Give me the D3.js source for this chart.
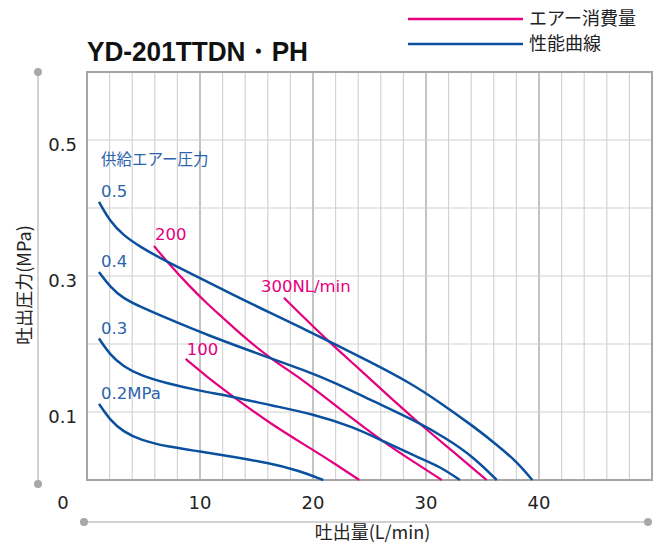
<!DOCTYPE html>
<html><head><meta charset="utf-8">
<script src="https://cdn.jsdelivr.net/npm/d3@7"></script>
<style>body{margin:0;background:#fff}svg{display:block}</style>
</head><body>
<script>
// ---------- data ----------
const chartTitle = "YD-201TTDN・PH";
const xTickValues = [0, 10, 20, 30, 40];
const yTickValues = [0.1, 0.3, 0.5];
const xTitle = "吐出量(L/min)";
const yTitle = "吐出圧力(MPa)";
const legendLabels = ["エアー消費量", "性能曲線"];
const supplyTitle = "供給エアー圧力";

// performance curves (supply pressure) : [flow L/min, discharge pressure MPa]
const perfLabels = ["0.5", "0.4", "0.3", "0.2MPa"];
const perf05 = [[1.06,0.409],[2.04,0.380],[3.21,0.360],[4.69,0.343],[7.05,0.321],[10.0,0.297],[12.95,0.272],[16.19,0.246],[19.14,0.223],[21.5,0.203],[25.04,0.174],[28.58,0.143],[31.24,0.114],[34.19,0.079],[36.26,0.052],[38.03,0.027],[39.41,0]];
const perf04 = [[1.06,0.306],[2.04,0.284],[3.21,0.267],[4.69,0.255],[7.05,0.238],[10.5,0.214],[15.9,0.181],[19.14,0.162],[22.1,0.142],[25.04,0.118],[29.18,0.086],[31.83,0.061],[34.19,0.034],[36.26,0]];
const perf03 = [[1.06,0.208],[2.04,0.184],[3.21,0.167],[4.69,0.154],[7.05,0.142],[10.0,0.131],[12.95,0.1225],[16.19,0.110],[20.03,0.097],[23.57,0.078],[26.22,0.057],[29.47,0.032],[31.24,0.0196],[33.0,0]];
const perf02 = [[1.06,0.112],[2.04,0.088],[3.21,0.071],[4.69,0.059],[7.05,0.049],[10.0,0.042],[12.95,0.034],[16.19,0.0246],[18.56,0.0147],[20.91,0]];

// air consumption lines
const airLabels = ["100", "200", "300NL/min"];
const air100 = [[8.73,0.178],[10.59,0.152],[12.95,0.1225],[16.19,0.083],[20.03,0.044],[22.1,0.022],[24.1,0]];
const air200 = [[5.93,0.344],[7.19,0.319],[9.12,0.284],[10.59,0.260],[12.06,0.238],[13.69,0.213],[16.19,0.179],[19.14,0.147],[22.1,0.108],[26.22,0.056],[28.88,0.027],[31.39,0]];
const air300 = [[17.43,0.268],[19.14,0.240],[21.5,0.202],[23.87,0.1666],[25.93,0.135],[29.18,0.086],[32.42,0.0416],[35.37,0]];

// ---------- drawing ----------
const W = 662, H = 544;
const BLUE = "#0b4f9f", BLUE_T = "#2b63ad", PINK = "#e4007f", GREY = "#a6a6a6";
const svg = d3.select("body").append("svg").attr("width", W).attr("height", H);

const x = d3.scaleLinear().domain([0, 50]).range([87, 652]);
const y = d3.scaleLinear().domain([0, 0.6]).range([480, 72]);

// grid
const g = svg.append("g");
g.selectAll("line.v").data(d3.range(2, 50, 2)).join("line")
  .attr("x1", d => x(d)).attr("x2", d => x(d)).attr("y1", y(0.6)).attr("y2", y(0))
  .attr("stroke", d => d % 10 === 0 ? "#b0b0b0" : "#d4d4d4").attr("stroke-width", d => d % 10 === 0 ? 1.5 : 1.2);
g.selectAll("line.h").data(d3.range(1, 6).map(i => i / 10)).join("line")
  .attr("x1", x(0)).attr("x2", x(50)).attr("y1", d => y(d)).attr("y2", d => y(d))
  .attr("stroke", "#d0d0d0").attr("stroke-width", 1.2);
g.append("rect").attr("x", x(0)).attr("y", y(0.6)).attr("width", x(50) - x(0)).attr("height", y(0) - y(0.6))
  .attr("fill", "none").attr("stroke", GREY).attr("stroke-width", 2);

// decorative axis rails
svg.append("line").attr("x1", 38).attr("x2", 38).attr("y1", y(0.6)).attr("y2", y(0) + 4).attr("stroke", "#c4c4c4").attr("stroke-width", 1.5);
svg.selectAll("circle.l").data([y(0.6), y(0) + 4]).join("circle").attr("cx", 38).attr("cy", d => d).attr("r", 4).attr("fill", "#a8a8a8");
svg.append("line").attr("x1", x(0) - 3).attr("x2", x(50) - 4).attr("y1", 522).attr("y2", 522).attr("stroke", "#c4c4c4").attr("stroke-width", 1.5);
svg.selectAll("circle.b").data([x(0) - 3, x(50) - 4]).join("circle").attr("cx", d => d).attr("cy", 522).attr("r", 4).attr("fill", "#a8a8a8");

// ticks
const tickFont = "'DejaVu Sans', sans-serif";
svg.selectAll("text.xt").data(xTickValues).join("text")
  .attr("x", d => d === 0 ? x(d) - 24 : x(d)).attr("y", 509)
  .attr("text-anchor", "middle").attr("font-family", tickFont).attr("font-size", 18).attr("fill", "#222")
  .text(d => d);
svg.selectAll("text.yt").data(yTickValues).join("text")
  .attr("x", 77).attr("y", d => y(d) + 11)
  .attr("text-anchor", "end").attr("font-family", tickFont).attr("font-size", 18).attr("fill", "#222")
  .text(d => d);

// axis titles
const jp = "'Noto Sans CJK JP', sans-serif";
svg.append("text").attr("x", (x(0) + x(50)) / 2 + 3).attr("y", 539).attr("text-anchor", "middle")
  .attr("font-family", jp).attr("font-size", 18).attr("fill", "#222").text(xTitle);
svg.append("text").attr("transform", `translate(31,${(y(0) + y(0.6)) / 2 + 9}) rotate(-90)`).attr("text-anchor", "middle")
  .attr("font-family", jp).attr("font-size", 18).attr("fill", "#222").text(yTitle);

// title
svg.append("text").attr("x", 87).attr("y", 61).attr("font-family", "'Liberation Sans', Arial, sans-serif")
  .attr("font-weight", "bold").attr("font-size", 28).attr("fill", "#111")
  .attr("textLength", 221).attr("lengthAdjust", "spacingAndGlyphs").text(chartTitle);

// legend
const legY = [19, 44], legCol = [PINK, BLUE];
legendLabels.forEach((t, i) => {
  svg.append("line").attr("x1", 408).attr("x2", 523).attr("y1", legY[i]).attr("y2", legY[i]).attr("stroke", legCol[i]).attr("stroke-width", 2.5);
  svg.append("text").attr("x", 529).attr("y", legY[i] + 6).attr("font-family", jp).attr("font-size", 18).attr("fill", "#222").text(t);
});

// curves
const line = d3.line().x(d => x(d[0])).y(d => y(d[1])).curve(d3.curveBasis);
const perf = [perf05, perf04, perf03, perf02];
const air = [air100, air200, air300];
svg.selectAll("path.air").data(air).join("path").attr("d", line).attr("fill", "none").attr("stroke", PINK).attr("stroke-width", 2.2);
svg.selectAll("path.perf").data(perf).join("path").attr("d", line).attr("fill", "none").attr("stroke", BLUE).attr("stroke-width", 2.5);

// labels
const lf = "'DejaVu Sans', sans-serif";
perf.forEach((s, i) => {
  svg.append("text").attr("x", x(s[0][0]) + 2).attr("y", y(s[0][1]) - 4.5)
    .attr("font-family", lf).attr("font-size", 16.5).attr("fill", BLUE_T).text(perfLabels[i]);
});
svg.append("text").attr("x", x(perf05[0][0]) + 2).attr("y", y(perf05[0][1]) - 37)
  .attr("font-family", jp).attr("font-size", 15.5).attr("fill", BLUE_T).text(supplyTitle);
const airOff = [[1, -3.5], [1, -6], [-23, -6]];
air.forEach((s, i) => {
  svg.append("text").attr("x", x(s[0][0]) + airOff[i][0]).attr("y", y(s[0][1]) + airOff[i][1])
    .attr("font-family", lf).attr("font-size", 16.5).attr("fill", PINK).text(airLabels[i]);
});
</script>
</body></html>
